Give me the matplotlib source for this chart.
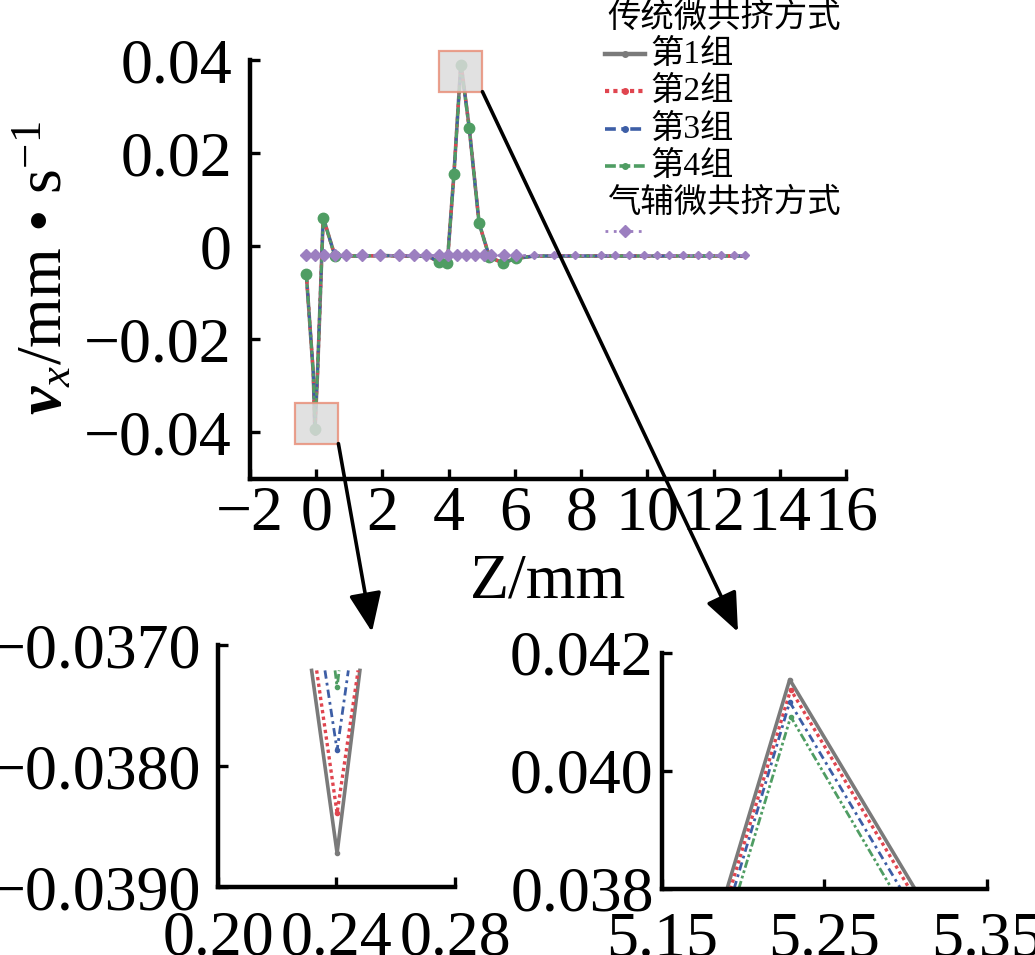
import matplotlib
matplotlib.use('Agg')
import matplotlib.pyplot as plt
from matplotlib.lines import Line2D
from matplotlib.patches import Rectangle

plt.rcParams['font.family'] = ['Liberation Serif', 'Noto Sans CJK SC']
plt.rcParams['mathtext.fontset'] = 'custom'
plt.rcParams['mathtext.rm'] = 'Liberation Serif'
plt.rcParams['mathtext.it'] = 'Liberation Serif:italic'
plt.rcParams['mathtext.bf'] = 'Liberation Serif:italic:bold'
plt.rcParams['axes.unicode_minus'] = True

# ---------------- data (main plot) ----------------
x_trad = [-0.30, -0.09, -0.04, 0.04, 0.21, 0.57, 1.0, 1.5, 2.0, 2.5, 3.0, 3.4, 3.7, 3.96,
          4.16, 4.37, 4.62, 4.92, 5.23, 5.63, 6.04, 6.6, 7.2, 7.8, 8.6, 9.0, 9.5, 9.9,
          10.3, 10.7, 11.1, 11.5, 11.9, 12.2, 12.6, 12.95]
y_g1 = [-0.0059, -0.0272, -0.0398, -0.0272, 0.0062, -0.0022, -0.0021, -0.0021, -0.0020, -0.0021,
        -0.0021, -0.0022, -0.0034, -0.0035, 0.0156, 0.0394, 0.0255, 0.0049, -0.0023, -0.0036,
        -0.0026, -0.0021, -0.0021, -0.0021, -0.0021, -0.0021, -0.0021, -0.0021, -0.0021,
        -0.0021, -0.0021, -0.0021, -0.0021, -0.0021, -0.0021, -0.0021]
y_g2 = [-0.0059, -0.0271, -0.0396, -0.0271, 0.0061, -0.0022, -0.0021, -0.0021, -0.0020, -0.0021,
        -0.0021, -0.0022, -0.0034, -0.0035, 0.0156, 0.0393, 0.0255, 0.0049, -0.0023, -0.0036,
        -0.0026, -0.0021, -0.0021, -0.0021, -0.0021, -0.0021, -0.0021, -0.0021, -0.0021,
        -0.0021, -0.0021, -0.0021, -0.0021, -0.0021, -0.0021, -0.0021]
y_g3 = [-0.0059, -0.0270, -0.0394, -0.0270, 0.0061, -0.0022, -0.0021, -0.0021, -0.0020, -0.0021,
        -0.0021, -0.0022, -0.0034, -0.0035, 0.0155, 0.0391, 0.0254, 0.0049, -0.0023, -0.0036,
        -0.0026, -0.0021, -0.0021, -0.0021, -0.0021, -0.0021, -0.0021, -0.0021, -0.0021,
        -0.0021, -0.0021, -0.0021, -0.0021, -0.0021, -0.0021, -0.0021]
y_g4 = [-0.0059, -0.0269, -0.0392, -0.0269, 0.0060, -0.0022, -0.0021, -0.0021, -0.0020, -0.0021,
        -0.0021, -0.0022, -0.0034, -0.0035, 0.0155, 0.0389, 0.0254, 0.0049, -0.0023, -0.0036,
        -0.0026, -0.0021, -0.0021, -0.0021, -0.0021, -0.0021, -0.0021, -0.0021, -0.0021,
        -0.0021, -0.0021, -0.0021, -0.0021, -0.0021, -0.0021, -0.0021]

x_gas = [-0.31, -0.04, 0.23, 0.56, 0.89, 1.37, 1.92, 2.51, 2.95, 3.33, 3.71, 3.98, 4.25,
         4.52, 4.79, 5.06, 5.28, 5.66, 6.04, 6.58, 7.18, 7.83, 8.59, 9.03, 9.46, 9.90,
         10.28, 10.66, 11.09, 11.52, 11.85, 12.23, 12.61, 12.94]
y_gas = [-0.0018] * len(x_gas)

# ---------------- data (zoomed insets) ----------------
in1_x = {
    'g1': [0.2316, 0.2402, 0.2479],
    'g2': [0.2333, 0.2402, 0.2473],
    'g3': [0.2361, 0.2402, 0.2440],
    'g4': [0.2395, 0.2402, 0.2409],
}
in1_y = {
    'g1': [-0.03721, -0.03872, -0.03721],
    'g2': [-0.03721, -0.03839, -0.03721],
    'g3': [-0.03721, -0.03787, -0.03721],
    'g4': [-0.03721, -0.03735, -0.03721],
}
in2_x = {
    'g1': [5.190, 5.2286, 5.3057],
    'g2': [5.1921, 5.2292, 5.3024],
    'g3': [5.1943, 5.2286, 5.2970],
    'g4': [5.1972, 5.2292, 5.2915],
}
in2_y = {
    'g1': [0.0380, 0.04155, 0.0380],
    'g2': [0.0380, 0.04138, 0.0380],
    'g3': [0.0380, 0.04117, 0.0380],
    'g4': [0.0380, 0.04092, 0.0380],
}

# ticks / labels
main_xticks = [-2, 0, 2, 4, 6, 8, 10, 12, 14, 16]
main_xticklabels = ['\u22122', '0', '2', '4', '6', '8', '10', '12', '14', '16']
main_yticks = [-0.04, -0.02, 0, 0.02, 0.04]
main_yticklabels = ['\u22120.04', '\u22120.02', '0', '0.02', '0.04']
in1_xticks = [0.20, 0.24, 0.28]
in1_xticklabels = ['0.20', '0.24', '0.28']
in1_yticks = [-0.039, -0.038, -0.037]
in1_yticklabels = ['\u22120.0390', '\u22120.0380', '\u22120.0370']
in2_xticks = [5.15, 5.25, 5.35]
in2_xticklabels = ['5.15', '5.25', '5.35']
in2_yticks = [0.038, 0.040, 0.042]
in2_yticklabels = ['0.038', '0.040', '0.042']

legend_title_1 = '传统微共挤方式'
group_labels = ['第1组', '第2组', '第3组', '第4组']
legend_title_2 = '气辅微共挤方式'

# ---------------- styles ----------------
styles = {
    'g1': dict(color='#7a7a7a', ls='-', lw=2.6, marker='o', ms=4),
    'g2': dict(color='#e0454f', ls=(0, (1, 1)), lw=2.4, marker='o', ms=4),
    'g3': dict(color='#3d5ea6', ls=(0, (3, 1.5, 1, 1.5)), lw=2.0, marker='o', ms=4),
    'g4': dict(color='#4f9d63', ls=(0, (3, 1, 1, 1, 1, 1)), lw=2.0, marker='o', ms=4),
}
gas_color = '#9c7fc0'
gas_line = dict(color=gas_color, ls=(0, (1, 2)), lw=2.0)

FS = 46
W, H = 1035, 955
fig = plt.figure(figsize=(W / 100, H / 100), dpi=100)

def frac_box(x0, y0, x1, y1):
    return [x0 / W, 1 - y1 / H, (x1 - x0) / W, (y1 - y0) / H]

def style_axes(ax, xpad, ypad):
    for s in ['top', 'right']:
        ax.spines[s].set_visible(False)
    for s in ['left', 'bottom']:
        ax.spines[s].set_linewidth(3.2)
    ax.tick_params(axis='both', direction='in', length=7, width=2.4, labelsize=FS)
    ax.tick_params(axis='x', pad=xpad)
    ax.tick_params(axis='y', pad=ypad)
    ax.patch.set_alpha(0)

# ---------------- main axes ----------------
ax = fig.add_axes(frac_box(250, 60, 846, 479))
ax.set_xlim(-2, 16)
ax.set_ylim(-0.05, 0.04)
style_axes(ax, 5, 13)
ax.set_xticks(main_xticks)
ax.set_xticklabels(main_xticklabels)
ax.set_yticks(main_yticks)
ax.set_yticklabels(main_yticklabels)

mark_idx = [0, 2, 4, 5] + list(range(12, 21))
for key, ys in zip(['g1', 'g2', 'g3', 'g4'], [y_g1, y_g2, y_g3, y_g4]):
    st = dict(styles[key])
    if key == 'g4':
        st['ms'] = 7.5
    ax.plot(x_trad, ys, clip_on=False, markevery=mark_idx, **st)

big = [i for i, v in enumerate(x_gas) if v < 6.2]
small = [i for i, v in enumerate(x_gas) if v >= 6.2]
ax.plot(x_gas, y_gas, clip_on=False, **gas_line)
ax.plot(x_gas, y_gas, ls='none', marker='D', ms=6.5, color=gas_color, markevery=big, clip_on=False)
ax.plot(x_gas, y_gas, ls='none', marker='D', ms=4.5, color=gas_color, markevery=small, clip_on=False)

# highlight boxes
for (bx0, bx1, by0, by1) in [(-0.65, 0.67, -0.0424, -0.0337), (3.71, 5.02, 0.0332, 0.0420)]:
    ax.add_patch(Rectangle((bx0, by0), bx1 - bx0, by1 - by0, facecolor='#dcdcdc', alpha=0.85,
                           edgecolor='#e8907a', lw=1.6, clip_on=False, zorder=5))

# arrows
arrow_kw = dict(arrowstyle='-|>,head_length=0.6,head_width=0.25', mutation_scale=40,
                lw=2.6, color='k', shrinkA=0, shrinkB=0)
ax.annotate('', xy=(372 / W, 1 - 632 / H), xycoords='figure fraction',
            xytext=(0.67, -0.0424), textcoords='data', arrowprops=arrow_kw,
            annotation_clip=False, zorder=10)
ax.annotate('', xy=(738 / W, 1 - 632 / H), xycoords='figure fraction',
            xytext=(5.02, 0.0332), textcoords='data', arrowprops=arrow_kw,
            annotation_clip=False, zorder=10)

# axis labels
fig.text(548 / W, 1 - 598 / H, 'Z/mm', ha='center', va='baseline', fontsize=FS)
fig.text(45 / W, 1 - 268 / H, r'$\mathbf{v}_{x}$/mm • s$^{-1}$', ha='center', va='center',
         rotation=90, fontsize=FS)

# ---------------- legend (manual) ----------------
leg_fs = 24
fig.text(607 / W, 1 - 18 / H, legend_title_1, ha='left', va='center', fontsize=leg_fs)
for i, (key, lab) in enumerate(zip(['g1', 'g2', 'g3', 'g4'], group_labels)):
    yy = 1 - (54 + i * 37.5) / H
    st = dict(styles[key])
    st['lw'] = st['lw'] + 0.6
    fig.add_artist(Line2D([605 / W, 625 / W, 645 / W], [yy, yy, yy], transform=fig.transFigure,
                          markevery=[1], **st))
    fig.text(650 / W, yy, lab, ha='left', va='center', fontsize=leg_fs)
fig.text(607 / W, 1 - 203 / H, legend_title_2, ha='left', va='center', fontsize=leg_fs)
yy = 1 - 231 / H
fig.add_artist(Line2D([605 / W, 625 / W, 645 / W], [yy, yy, yy], transform=fig.transFigure,
                      markevery=[1], marker='D', ms=6, **gas_line))

# ---------------- inset 1 ----------------
ax1 = fig.add_axes(frac_box(218, 645, 455, 887))
ax1.set_xlim(0.20, 0.28)
ax1.set_ylim(-0.039, -0.037)
style_axes(ax1, 17, 12)
ax1.set_xticks(in1_xticks)
ax1.set_xticklabels(in1_xticklabels)
ax1.set_yticks(in1_yticks)
ax1.set_yticklabels(in1_yticklabels)
for key in ['g1', 'g2', 'g3', 'g4']:
    st = dict(styles[key])
    st['ms'] = 3
    ax1.plot(in1_x[key], in1_y[key], markevery=[1], **st)

# ---------------- inset 2 ----------------
ax2 = fig.add_axes(frac_box(662, 653, 987, 889))
ax2.set_xlim(5.15, 5.35)
ax2.set_ylim(0.038, 0.042)
style_axes(ax2, 16, 6)
ax2.set_xticks(in2_xticks)
ax2.set_xticklabels(in2_xticklabels)
ax2.set_yticks(in2_yticks)
ax2.set_yticklabels(in2_yticklabels)
for key in ['g1', 'g2', 'g3', 'g4']:
    st = dict(styles[key])
    st['ms'] = 3
    ax2.plot(in2_x[key], in2_y[key], markevery=[1], **st)

fig.savefig('out.png', dpi=100)
